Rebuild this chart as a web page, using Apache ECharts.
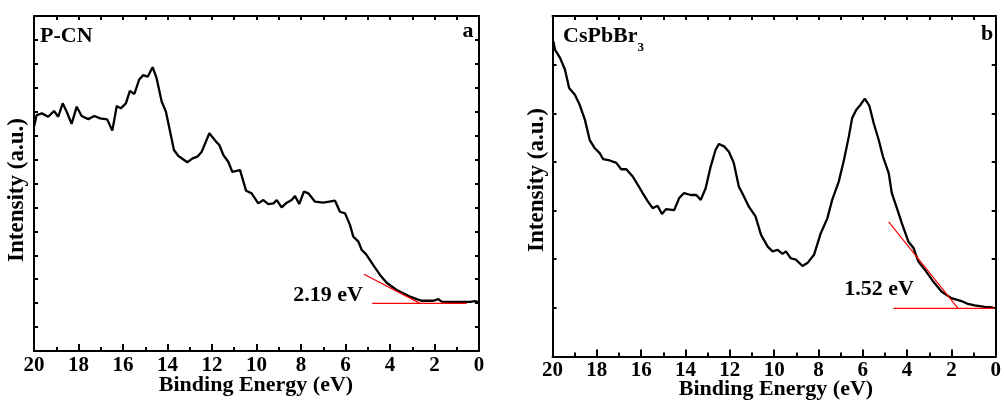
<!DOCTYPE html>
<html>
<head>
<meta charset="utf-8">
<script src="https://cdn.jsdelivr.net/npm/echarts@6/dist/echarts.min.js"></script>
<style>
html,body{margin:0;padding:0;background:#fff;}
#c{width:1004px;height:405px;}
</style>
</head>
<body>
<div id="c"></div>
<script>
// Panel a: P-CN
const pcnX = [20.0,19.88,19.65,19.36,19.10,18.91,18.71,18.53,18.31,18.08,17.86,17.56,17.29,17.03,16.71,16.48,16.28,16.10,15.87,15.69,15.49,15.27,15.09,14.89,14.67,14.49,14.26,14.07,13.71,13.51,13.11,12.87,12.66,12.46,12.12,11.82,11.67,11.49,11.27,11.09,10.74,10.47,10.22,9.92,9.69,9.47,9.24,9.09,8.87,8.64,8.42,8.27,8.08,7.87,7.67,7.37,7.00,6.47,6.25,6.02,5.80,5.65,5.42,5.27,5.08,4.75,4.45,4.15,3.70,3.40,3.10,2.80,2.58,2.05,1.83,1.68,1.16,0.40,0.18,0.03];
const pcnY = [9.37,9.86,9.93,9.79,10.03,9.79,10.35,10.00,9.49,10.21,9.82,9.69,9.82,9.72,9.68,9.21,10.24,10.14,10.35,10.87,10.74,11.35,11.53,11.46,11.86,11.40,10.42,10.00,8.40,8.15,7.89,8.05,8.12,8.33,9.10,8.75,8.61,8.19,7.91,7.49,7.56,6.70,6.59,6.17,6.31,6.14,6.17,6.31,6.00,6.20,6.31,6.48,6.14,6.66,6.59,6.24,6.20,6.28,5.82,5.75,5.27,4.78,4.57,4.22,4.05,3.59,3.18,2.85,2.55,2.41,2.27,2.17,2.10,2.10,2.17,2.06,2.05,2.05,2.08,2.04];
const pcnTangentX = [5.17, 2.65];
const pcnTangentY = [3.21, 1.99];
const pcnBaseX = [4.80, 0.55];
const pcnBaseY = [1.99, 1.99];

// Panel b: CsPbBr3
const csX = [19.96,19.89,19.66,19.44,19.25,18.99,18.77,18.54,18.32,18.09,17.87,17.72,17.42,17.12,16.90,16.67,16.38,16.15,15.93,15.70,15.48,15.26,15.06,14.88,14.51,14.28,14.06,13.76,13.51,13.31,13.09,12.86,12.64,12.49,12.26,12.04,11.82,11.59,11.44,11.14,10.84,10.59,10.29,10.07,9.84,9.62,9.47,9.25,9.02,8.72,8.50,8.20,7.90,7.60,7.38,7.08,6.85,6.63,6.48,6.30,6.11,5.91,5.70,5.51,5.28,5.09,4.83,4.69,4.46,4.24,3.94,3.71,3.49,3.19,2.82,2.44,2.00,1.55,1.25,0.95,0.50,0.13];
const csY = [6.48,6.31,6.14,5.90,5.52,5.38,5.17,4.87,4.45,4.28,4.18,4.06,4.03,3.98,3.85,3.85,3.70,3.53,3.36,3.19,3.05,3.10,2.93,3.03,3.01,3.26,3.36,3.32,3.32,3.22,3.46,3.91,4.25,4.37,4.32,4.21,3.98,3.49,3.36,3.08,2.88,2.50,2.26,2.16,2.19,2.11,2.16,2.02,1.99,1.86,1.92,2.09,2.53,2.84,3.22,3.60,4.04,4.52,4.90,5.07,5.17,5.30,5.15,4.80,4.45,4.11,3.77,3.36,3.05,2.74,2.36,2.23,1.95,1.78,1.54,1.33,1.20,1.14,1.08,1.05,1.02,1.01];
const csTangentX = [4.83, 1.70];
const csTangentY = [2.77, 0.99];
const csBaseX = [4.61, 0.05];
const csBaseY = [0.99, 0.99];

const xMin = 0, xMax = 20, xInterval = 2;
const yMaxA = 14, yMaxB = 7;
const xTitle = 'Binding Energy (eV)';
const yTitle = 'Intensity (a.u.)';

const zip = (a, b) => a.map((v, i) => [v, b[i]]);
const FONT = "'Liberation Serif','Times New Roman',serif";
const txt = {fontFamily: FONT, fontWeight: 'bold', fontSize: 21, color: '#000'};

function bottomAxis(gi) {
  return {
    gridIndex: gi, type: 'value', min: xMin, max: xMax, interval: xInterval, inverse: true,
    position: 'bottom',
    axisLine: {show: true, onZero: false, lineStyle: {color: '#000', width: 2}},
    axisTick: {show: true, inside: true, length: 7, lineStyle: {color: '#000', width: 2}},
    minorTick: {show: true, splitNumber: 2, length: 4, lineStyle: {color: '#000', width: 2}},
    axisLabel: Object.assign({margin: 4}, txt),
    splitLine: {show: false}
  };
}
function topAxis(gi) {
  return {
    gridIndex: gi, type: 'value', min: xMin, max: xMax, interval: 1, inverse: true,
    position: 'top',
    axisLine: {show: true, onZero: false, lineStyle: {color: '#000', width: 2}},
    axisTick: {show: true, inside: true, length: 4, lineStyle: {color: '#000', width: 2}},
    axisLabel: {show: false}, splitLine: {show: false}
  };
}
function sideAxis(gi, max, pos) {
  return {
    gridIndex: gi, type: 'value', min: 0, max: max, interval: 1, position: pos,
    axisLine: {show: true, onZero: false, lineStyle: {color: '#000', width: 2}},
    axisTick: {show: true, inside: true, length: 4, lineStyle: {color: '#000', width: 2}},
    axisLabel: {show: false}, splitLine: {show: false}
  };
}
function line(xi, yi, data, color, width, z) {
  return {type: 'line', xAxisIndex: xi, yAxisIndex: yi, data: data, showSymbol: false, symbol: 'none',
    lineStyle: {color: color, width: width}, itemStyle: {color: color}, z: z, silent: true, animation: false};
}
function label(x, y, text, size, rot) {
  return {type: 'text', x: x, y: y, rotation: rot || 0,
    style: {text: text, font: "bold " + size + "px " + FONT, fill: '#000', align: 'center', verticalAlign: 'middle'}};
}

const chart = echarts.init(document.getElementById('c'), null, {renderer: 'canvas'});
chart.setOption({
  backgroundColor: '#fff',
  animation: false,
  grid: [
    {left: 34, top: 16, width: 445, height: 335},
    {left: 552.5, top: 16, width: 446, height: 340.5}
  ],
  xAxis: [bottomAxis(0), topAxis(0), bottomAxis(1), topAxis(1)],
  yAxis: [sideAxis(0, yMaxA, 'left'), sideAxis(0, yMaxA, 'right'), sideAxis(1, yMaxB, 'left'), sideAxis(1, yMaxB, 'right')],
  series: [
    line(0, 0, zip(pcnX, pcnY), '#000', 2.3, 3),
    line(0, 0, zip(pcnTangentX, pcnTangentY), '#ff0000', 1.2, 4),
    line(0, 0, zip(pcnBaseX, pcnBaseY), '#ff0000', 1.2, 4),
    line(2, 2, zip(csX, csY), '#000', 2.3, 3),
    line(2, 2, zip(csTangentX, csTangentY), '#ff0000', 1.2, 4),
    line(2, 2, zip(csBaseX, csBaseY), '#ff0000', 1.2, 4)
  ],
  graphic: [
    {type: 'text', x: 40, y: 36, style: {text: 'P-CN', font: "bold 22px " + FONT, fill: '#000', align: 'left', verticalAlign: 'middle'}},
    label(468, 31, 'a', 22),
    label(328, 295, '2.19 eV', 22),
    {type: 'text', x: 563, y: 36, style: {
      text: '{m|CsPbBr}{s|3}', align: 'left', verticalAlign: 'middle',
      rich: {
        m: {font: "bold 22px " + FONT, fill: '#000', verticalAlign: 'bottom'},
        s: {font: "bold 13px " + FONT, fill: '#000', verticalAlign: 'bottom', padding: [0, 0, -7, 0]}
      }}},
    label(987, 34, 'b', 22),
    label(879, 289, '1.52 eV', 22),
    label(256, 385, xTitle, 22),
    label(776, 389, xTitle, 22),
    label(17, 190, yTitle, 23, Math.PI / 2),
    label(537.5, 180, yTitle, 23, Math.PI / 2)
  ]
});
</script>
</body>
</html>
